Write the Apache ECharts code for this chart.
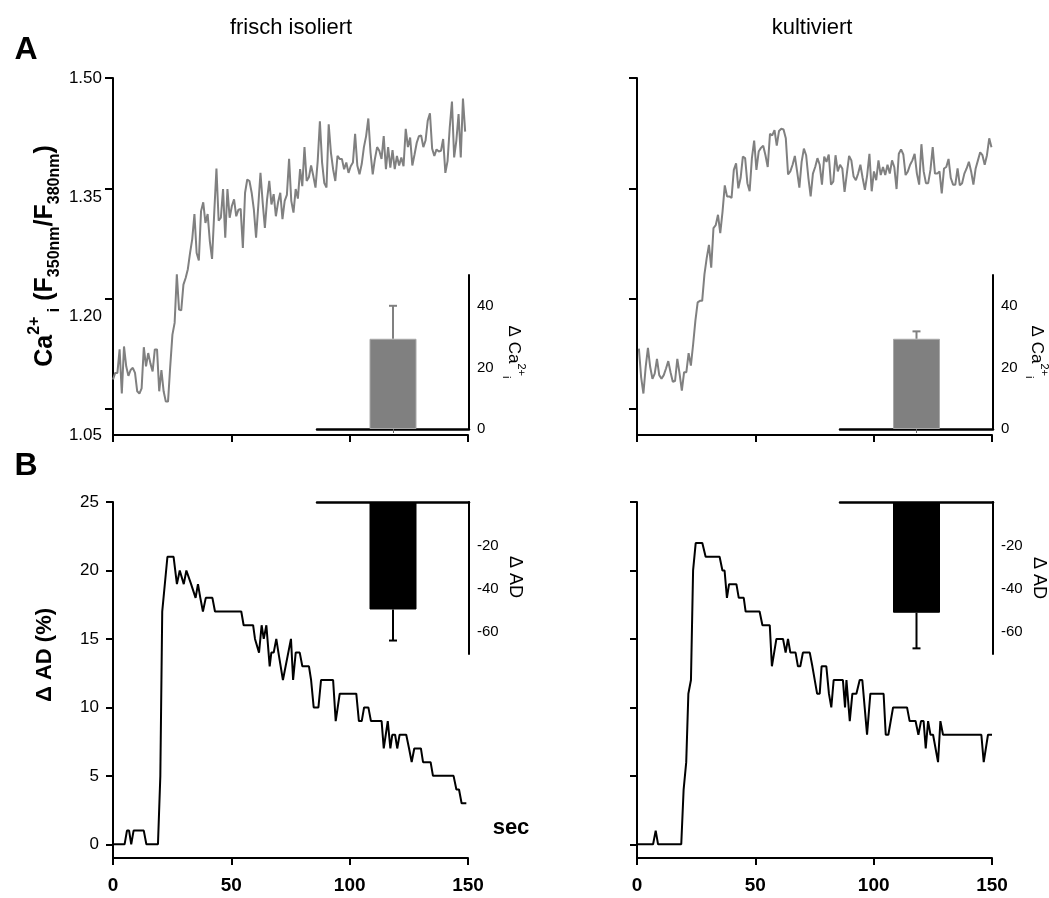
<!DOCTYPE html>
<html>
<head>
<meta charset="utf-8">
<script src="https://cdn.jsdelivr.net/npm/echarts@6/dist/echarts.min.js"></script>
<style>
  html, body { margin: 0; padding: 0; background: #fff; }
  #chart { width: 1049px; height: 898px; }
</style>
</head>
<body>
<div id="chart"></div>
<script>
// tick values
const TIME_TICKS = [0, 50, 100, 150];
const CA_TICKS = [1.05, 1.20, 1.35, 1.50];
const AD_TICKS = [0, 5, 10, 15, 20, 25];
const INSET_CA_TICKS = [0, 20, 40];
const INSET_AD_TICKS = [-20, -40, -60];

// Ca2+ traces (ratio), one sample every STEP seconds
const CA_FRISCH_START = 0, CA_FRISCH_STEP = 0.93;
const CA_FRISCH = [
  1.090,1.099,1.099,1.131,1.071,1.135,1.108,1.095,1.103,1.106,
  1.099,1.074,1.071,1.078,1.134,1.108,1.126,1.112,1.101,1.131,
  1.131,1.074,1.103,1.074,1.060,1.060,1.108,1.151,1.167,1.233,
  1.185,1.184,1.219,1.228,1.240,1.262,1.281,1.315,1.262,1.252,
  1.319,1.331,1.303,1.315,1.278,1.254,1.317,1.377,1.306,1.310,
  1.349,1.283,1.349,1.310,1.326,1.335,1.312,1.321,1.322,1.269,
  1.344,1.362,1.360,1.344,1.321,1.283,1.326,1.371,1.331,1.296,
  1.335,1.360,1.328,1.342,1.312,1.331,1.344,1.308,1.333,1.341,
  1.390,1.333,1.317,1.349,1.336,1.376,1.353,1.406,1.360,1.365,
  1.381,1.367,1.351,1.387,1.441,1.385,1.357,1.351,1.437,1.399,
  1.376,1.360,1.394,1.390,1.390,1.376,1.385,1.371,1.380,1.385,
  1.424,1.381,1.369,1.383,1.406,1.421,1.445,1.399,1.369,1.390,
  1.406,1.401,1.390,1.421,1.376,1.406,1.378,1.402,1.376,1.394,
  1.381,1.392,1.380,1.431,1.406,1.419,1.381,1.396,1.412,1.421,
  1.422,1.406,1.415,1.442,1.452,1.404,1.394,1.403,1.400,1.401,
  1.417,1.371,1.387,1.433,1.468,1.392,1.415,1.451,1.392,1.472,
  1.427
];
const CA_KULT_START = 0.8, CA_KULT_STEP = 0.955;
const CA_KULT = [
  1.132,1.093,1.071,1.107,1.133,1.107,1.091,1.098,1.118,1.096,
  1.091,1.096,1.105,1.115,1.100,1.087,1.088,1.118,1.098,1.075,
  1.100,1.100,1.126,1.109,1.138,1.170,1.195,1.197,1.197,1.233,
  1.255,1.273,1.242,1.296,1.300,1.314,1.289,1.318,1.354,1.339,
  1.339,1.337,1.375,1.384,1.350,1.364,1.393,1.391,1.357,1.346,
  1.391,1.415,1.375,1.400,1.405,1.408,1.395,1.379,1.424,1.422,
  1.429,1.408,1.428,1.431,1.430,1.418,1.369,1.373,1.382,1.394,
  1.373,1.351,1.386,1.404,1.395,1.364,1.339,1.370,1.379,1.391,
  1.382,1.355,1.393,1.386,1.396,1.355,1.359,1.395,1.373,1.382,
  1.377,1.345,1.370,1.394,1.388,1.366,1.361,1.370,1.382,1.364,
  1.348,1.368,1.397,1.346,1.373,1.361,1.388,1.368,1.379,1.368,
  1.382,1.370,1.388,1.379,1.349,1.397,1.403,1.396,1.368,1.373,
  1.382,1.388,1.397,1.370,1.355,1.410,1.373,1.357,1.357,1.375,
  1.406,1.370,1.370,1.373,1.343,1.377,1.379,1.390,1.364,1.355,
  1.355,1.377,1.354,1.357,1.370,1.377,1.386,1.373,1.355,1.377,
  1.388,1.399,1.395,1.382,1.395,1.418,1.406
];

// delta AD traces (%), time (sec) and value
const AD_FRISCH_T = [0,4.9,5.9,6.8,7.7,8.7,13.0,14.1,19.0,20.0,20.8,23.0,25.6,27.0,28.2,28.9,29.9,31.0,31.8,33.0,
  33.8,34.9,35.9,36.9,38.0,39.2,42.0,43.1,54.2,55.2,59.2,60.0,60.6,61.7,62.8,63.7,64.8,66.2,66.9,67.9,
  69.0,69.9,70.7,71.8,75.2,76.1,77.2,78.9,80.0,82.8,83.7,84.8,86.8,87.9,93.0,94.1,95.8,102.8,103.9,105.1,
  106.1,107.9,109.0,113.5,114.4,116.1,117.2,118.0,119.2,120.1,121.1,123.9,125.1,126.2,127.3,130.1,131.0,134.2,135.2,143.9,
  145.1,146.2,147.3,149.3];
const AD_FRISCH_V = [0,0,1,1,0,1,1,0,0,5,17,21,21,19,20,20,19,20,20,19,
  19,18,19,18,17,18,18,17,17,16,16,15,15,14,16,15,16,13,14,14,
  15,14,14,12,15,12,14,14,13,13,12,10,10,12,12,9,11,11,9,9,
  10,10,9,9,7,9,7,8,8,7,8,8,7,6,7,7,6,6,5,5,
  4,4,3,3];
const AD_KULT_T = [0.4,6.8,7.9,8.9,18.7,19.7,20.8,21.7,22.8,23.7,24.8,27.6,29.0,34.9,36.1,37.0,38.0,38.9,42.0,43.0,
  45.1,45.9,51.8,53.0,56.1,57.0,58.9,61.7,62.8,63.8,64.8,67.0,68.0,69.0,70.1,73.0,74.1,76.1,77.2,78.0,
  80.0,81.1,82.1,83.1,87.0,87.9,88.5,89.0,89.9,91.0,92.7,94.1,95.2,96.2,97.2,98.6,104.2,105.1,106.2,108.2,
  114.1,115.2,117.7,118.9,120.0,121.1,122.0,123.0,124.0,125.1,127.2,128.2,129.3,145.5,146.5,148.3,150.0];
const AD_KULT_V = [0,0,1,0,0,4,6,11,12,20,22,22,21,21,20,20,18,19,19,18,
  18,17,17,16,16,13,15,15,14,15,14,14,13,13,14,14,13,11,11,13,
  13,11,10,12,12,10,12,12,9,11,11,12,12,10,8,11,11,8,8,10,
  10,9,9,8,9,9,7,9,8,8,6,9,8,8,6,8,8];

// inset bars: mean and error (frisch isoliert, kultiviert)
const INSET_CA_MEAN = [29.3, 29.3];
const INSET_CA_ERR = [10.7, 2.4];
const INSET_AD_MEAN = [-49.5, -51];
const INSET_AD_ERR = [14.3, 16.4];

const FONT = "'Liberation Sans', Arial, sans-serif";
const GREY = '#808080';
const CA_AXIS_MIN = 1.0146; // axis runs a bit below the 1.05 tick

const chart = echarts.init(document.getElementById('chart'));

function mainX(grid, showLabels) {
  return {
    type: 'value', gridIndex: grid, min: 0, max: 150, interval: 50,
    axisLine: { show: true, onZero: false, lineStyle: { color: '#000', width: 2 } },
    axisTick: { show: true, length: 7, lineStyle: { color: '#000', width: 2 } },
    axisLabel: { show: showLabels, color: '#000', fontFamily: FONT, fontSize: 19, fontWeight: 'bold', margin: 18 },
    splitLine: { show: false }
  };
}

function insetX(grid, pos, tick) {
  return {
    type: 'category', gridIndex: grid, data: [''], position: pos,
    axisLine: { show: true, onZero: false, lineStyle: { color: '#000', width: 2.5 } },
    axisTick: { show: tick, alignWithLabel: true, length: 4, lineStyle: { color: '#666', width: 1 } },
    axisLabel: { show: false }
  };
}

function insetY(grid, min, max, labels) {
  return {
    type: 'value', gridIndex: grid, position: 'right', min: min, max: max,
    axisLine: { show: true, onZero: false, lineStyle: { color: '#000', width: 2 } },
    axisTick: { show: false },
    axisLabel: { customValues: labels, color: '#000', fontFamily: FONT, fontSize: 15, margin: 8 },
    splitLine: { show: false }
  };
}

function caTickAxis(grid) {
  return {
    type: 'value', gridIndex: grid, min: CA_AXIS_MIN, max: 1.5,
    axisLine: { show: true, onZero: false, lineStyle: { color: '#000', width: 2 } },
    axisTick: { show: true, length: 8, customValues: CA_TICKS, lineStyle: { color: '#000', width: 2 } },
    axisLabel: { show: false },
    splitLine: { show: false }
  };
}

function adAxis(grid, showLabels) {
  return {
    type: 'value', gridIndex: grid, min: -1, max: 25,
    axisLine: { show: true, onZero: false, lineStyle: { color: '#000', width: 2 } },
    axisTick: { show: true, length: 7, customValues: AD_TICKS, lineStyle: { color: '#000', width: 2 } },
    axisLabel: { show: showLabels, customValues: AD_TICKS, color: '#000', fontFamily: FONT, fontSize: 17, margin: 14 },
    splitLine: { show: false }
  };
}

function trace(xi, yi, data, color) {
  return {
    type: 'line', xAxisIndex: xi, yAxisIndex: yi, data: data,
    showSymbol: false, symbol: 'none', z: 4,
    lineStyle: { color: color, width: 2 }
  };
}

function bar(xi, yi, value, color, border) {
  return {
    type: 'bar', xAxisIndex: xi, yAxisIndex: yi, data: [value], barWidth: 47, z: 2,
    itemStyle: { color: color, borderColor: border, borderWidth: 1 }
  };
}

function errBar(xi, yi, mean, limit, color) {
  return {
    type: 'custom', xAxisIndex: xi, yAxisIndex: yi, z: 3,
    data: [[0, mean, limit]],
    renderItem(params, api) {
      const a = api.coord([api.value(0), api.value(1)]);
      const b = api.coord([api.value(0), api.value(2)]);
      return {
        type: 'group',
        children: [
          { type: 'line', shape: { x1: a[0], y1: a[1], x2: b[0], y2: b[1] }, style: { stroke: color, lineWidth: 2 } },
          { type: 'line', shape: { x1: b[0] - 4, y1: b[1], x2: b[0] + 4, y2: b[1] }, style: { stroke: color, lineWidth: 2 } }
        ]
      };
    }
  };
}

function label(x, y, text, size, bold, rot, rich) {
  return {
    type: 'text', x: x, y: y, rotation: rot || 0,
    style: {
      text: text, fill: '#000', fontFamily: FONT, fontSize: size,
      fontWeight: bold ? 'bold' : 'normal', align: 'center', verticalAlign: 'middle',
      rich: rich
    }
  };
}

const caFrisch = CA_FRISCH.map((v, i) => [CA_FRISCH_START + i * CA_FRISCH_STEP, v]);
const caKult = CA_KULT.map((v, i) => [CA_KULT_START + i * CA_KULT_STEP, v]);
const adFrisch = AD_FRISCH_T.map((t, i) => [t, AD_FRISCH_V[i]]);
const adKult = AD_KULT_T.map((t, i) => [t, AD_KULT_V[i]]);

const richMain = {
  b: { fontSize: 25, fontWeight: 'bold', fontFamily: FONT, fill: '#000', lineHeight: 36 },
  sp: { fontSize: 16, fontWeight: 'bold', fontFamily: FONT, fill: '#000', lineHeight: 16, verticalAlign: 'top' },
  sb: { fontSize: 16, fontWeight: 'bold', fontFamily: FONT, fill: '#000', lineHeight: 16, verticalAlign: 'bottom' }
};
const richInset = {
  n: { fontSize: 17, fontFamily: FONT, fill: '#000', lineHeight: 26 },
  sp: { fontSize: 11, fontFamily: FONT, fill: '#000', lineHeight: 11, verticalAlign: 'top' },
  sb: { fontSize: 11, fontFamily: FONT, fill: '#000', lineHeight: 11, verticalAlign: 'bottom' }
};

const option = {
  animation: false,
  backgroundColor: '#fff',
  grid: [
    { left: 113, top: 78, width: 355, height: 357 },
    { left: 637, top: 78, width: 355, height: 357 },
    { left: 113, top: 502, width: 355, height: 356 },
    { left: 637, top: 502, width: 355, height: 356 },
    { left: 317, top: 275, width: 152, height: 154 },
    { left: 840, top: 275, width: 153, height: 154 },
    { left: 317, top: 502, width: 152, height: 152 },
    { left: 840, top: 502, width: 153, height: 152 }
  ],
  xAxis: [
    mainX(0, false), mainX(1, false), mainX(2, true), mainX(3, true),
    insetX(4, 'bottom', true), insetX(5, 'bottom', true),
    insetX(6, 'top', false), insetX(7, 'top', false)
  ],
  yAxis: [
    caTickAxis(0),
    {
      type: 'value', gridIndex: 0, position: 'left', min: 1.05, max: 1.5,
      axisLine: { show: false }, axisTick: { show: false }, splitLine: { show: false },
      axisLabel: { customValues: CA_TICKS, formatter: v => v.toFixed(2), color: '#000', fontFamily: FONT, fontSize: 17, margin: 11 }
    },
    caTickAxis(1),
    adAxis(2, true),
    adAxis(3, false),
    insetY(4, 0, 50, INSET_CA_TICKS),
    insetY(5, 0, 50, INSET_CA_TICKS),
    insetY(6, -70, 0, INSET_AD_TICKS),
    insetY(7, -70, 0, INSET_AD_TICKS)
  ],
  series: [
    trace(0, 0, caFrisch, GREY),
    trace(1, 2, caKult, GREY),
    trace(2, 3, adFrisch, '#000'),
    trace(3, 4, adKult, '#000'),
    bar(4, 5, INSET_CA_MEAN[0], GREY, '#a8a8a8'),
    errBar(4, 5, INSET_CA_MEAN[0], INSET_CA_MEAN[0] + INSET_CA_ERR[0], GREY),
    bar(5, 6, INSET_CA_MEAN[1], GREY, '#a8a8a8'),
    errBar(5, 6, INSET_CA_MEAN[1], INSET_CA_MEAN[1] + INSET_CA_ERR[1], GREY),
    bar(6, 7, INSET_AD_MEAN[0], '#000', '#000'),
    errBar(6, 7, INSET_AD_MEAN[0], INSET_AD_MEAN[0] - INSET_AD_ERR[0], '#000'),
    bar(7, 8, INSET_AD_MEAN[1], '#000', '#000'),
    errBar(7, 8, INSET_AD_MEAN[1], INSET_AD_MEAN[1] - INSET_AD_ERR[1], '#000')
  ],
  graphic: [
    label(291, 28, 'frisch isoliert', 22, false),
    label(812, 28, 'kultiviert', 22, false),
    label(26, 50, 'A', 32, true),
    label(26, 466, 'B', 32, true),
    label(45, 256, '{b|Ca}{sp|2+}{sb| i}{b| (F}{sb|350nm}{b|/F}{sb|380nm}{b|)}', 25, true, Math.PI / 2, richMain),
    label(45, 655, 'Δ AD (%)', 22, true, Math.PI / 2),
    label(511, 828, 'sec', 22, true),
    label(514, 352, '{n|Δ Ca}{sp|2+}{sb|i}', 17, false, -Math.PI / 2, richInset),
    label(1037, 352, '{n|Δ Ca}{sp|2+}{sb|i}', 17, false, -Math.PI / 2, richInset),
    label(515, 577, 'Δ AD', 18, false, -Math.PI / 2),
    label(1039, 578, 'Δ AD', 18, false, -Math.PI / 2)
  ]
};

chart.setOption(option);
</script>
</body>
</html>
